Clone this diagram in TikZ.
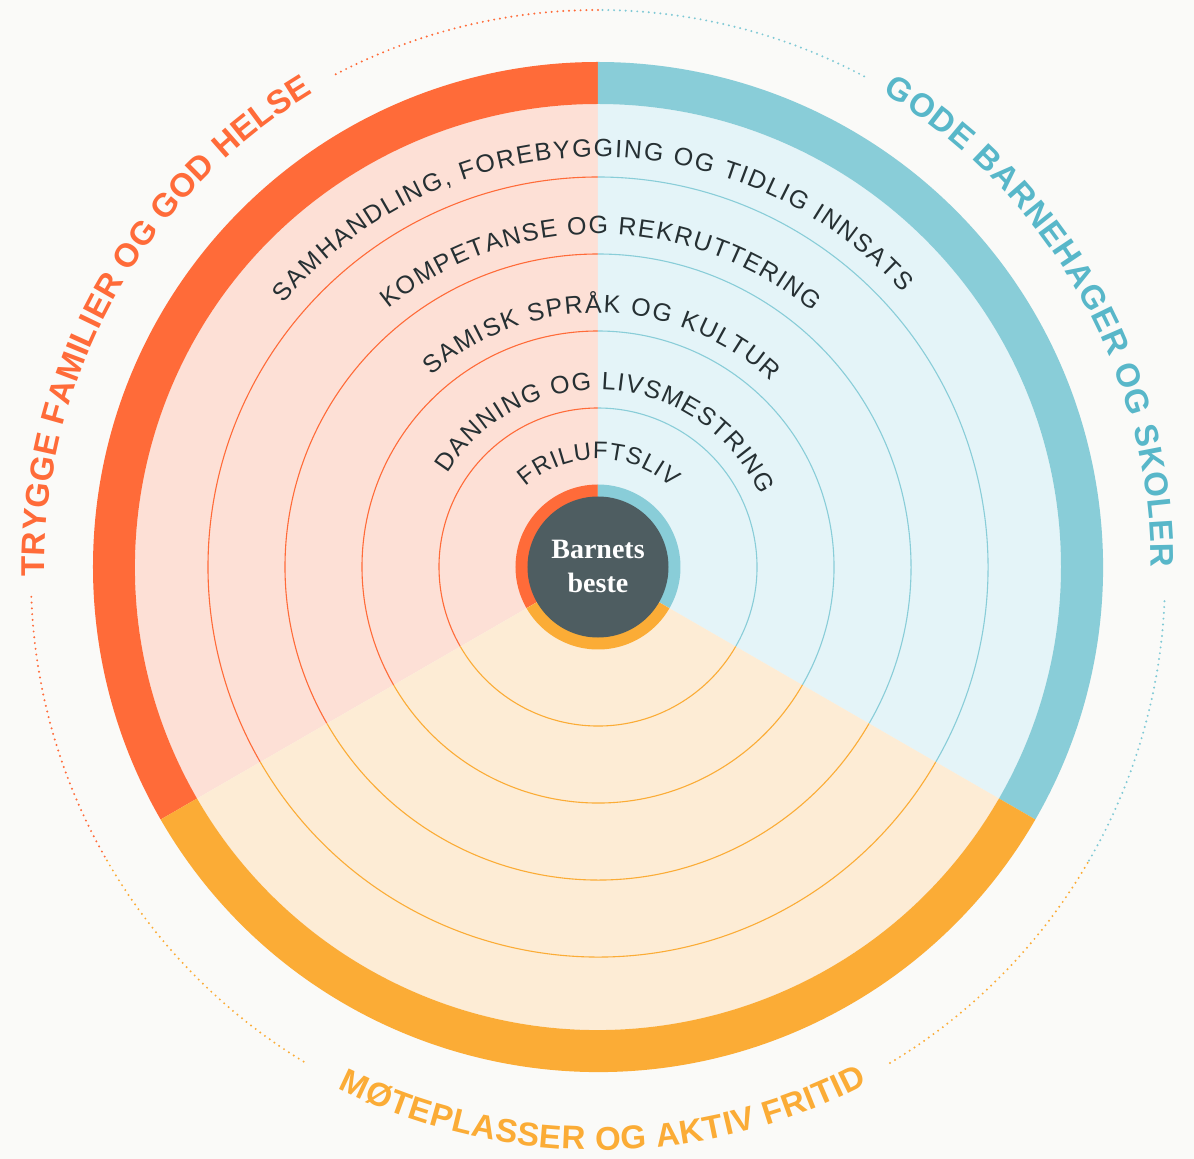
\documentclass[tikz,border=0pt]{standalone}
\usepackage{fontspec}
\usetikzlibrary{decorations.text}
\newfontfamily\lblfont{Liberation Sans}
\newfontfamily\innfont{Liberation Sans}
\newfontfamily\ctrfont{Liberation Serif}
\definecolor{oR}{HTML}{FF6B39}
\definecolor{oL}{HTML}{FDE0D6}
\definecolor{bR}{HTML}{89CDD8}
\definecolor{bL}{HTML}{E4F4F8}
\definecolor{bT}{HTML}{58B7C9}
\definecolor{yR}{HTML}{FBAC36}
\definecolor{yL}{HTML}{FDECD5}
\definecolor{ctr}{HTML}{4E5D61}
\definecolor{tdark}{HTML}{263033}
\definecolor{bg}{HTML}{FAFAF8}
\begin{document}
\begin{tikzpicture}[x=1pt,y=1pt,
  ringline/.style={line width=1.1pt},
  dots/.style={line width=2.2pt, line cap=round, dash pattern=on 0pt off 5.8pt},
  innerlabel/.style={decorate, decoration={text along path, text align={fit to path},
     text={|\innfont\fontsize{25}{25}\selectfont\color{tdark}|#1}}},
  smalllabel/.style={decorate, decoration={text along path, text align={fit to path},
     text={|\innfont\fontsize{24}{24}\selectfont\color{tdark}|#1}}},
  outerlabel/.style 2 args={decorate, decoration={text along path, text align={fit to path},
     text={|\lblfont\bfseries\fontsize{33}{33}\selectfont\color{#1}|#2}}},
]
\fill[bg] (-598,-592) rectangle (596,567);
\useasboundingbox (-598,-592) rectangle (596,567);

% sectors
\foreach \a/\b/\cl/\cr in {90/210/oL/oR, -30/90/bL/bR, 210/330/yL/yR} {
  \fill[\cl] (0,0) -- (\a:463pt) arc[start angle=\a, end angle=\b, radius=463pt] -- cycle;
  \fill[\cr] (\a:463pt) -- (\a:505pt) arc[start angle=\a, end angle=\b, radius=505pt]
     -- (\b:463pt) arc[start angle=\b, end angle=\a, radius=463pt] -- cycle;
  \foreach \r in {159pt,236pt,313pt,390pt}
    \draw[\cr, ringline] (\a:\r) arc[start angle=\a, end angle=\b, radius=\r];
  \fill[\cr] (0,0) -- (\a:82.5pt) arc[start angle=\a, end angle=\b, radius=82.5pt] -- cycle;
}
\fill[ctr] (0,0) circle[radius=70.5pt];
\node[font=\ctrfont\bfseries\fontsize{28}{28}\selectfont, text=white, anchor=base, inner sep=0pt] (t1) at (0,9) {Barnets};
\node[font=\ctrfont\bfseries\fontsize{28}{28}\selectfont, text=white, anchor=base, inner sep=0pt] (t2) at (0,-25) {beste};

% dotted outer arcs
\begin{scope}[shift={(0,-10)}]
  \draw[dots, oR] (90:567pt) arc[start angle=90, end angle=118, radius=567pt];
  \draw[dots, oR] (182:567pt) arc[start angle=182, end angle=210, radius=567pt];
  \draw[dots, bR!80!bT] (62:567pt) arc[start angle=62, end angle=90, radius=567pt];
  \draw[dots, bR!80!bT] (-30:567pt) arc[start angle=-30, end angle=-2, radius=567pt];
  \draw[dots, yR] (210:567pt) arc[start angle=210, end angle=239, radius=567pt];
  \draw[dots, yR] (-59:567pt) arc[start angle=-59, end angle=-30, radius=567pt];
\end{scope}

% outer labels
\path[outerlabel={oR}{TRYGGE FAMILIER OG GOD HELSE}] (181:553pt) arc[start angle=181, end angle=121, radius=553pt];
\path[outerlabel={bT}{GODE BARNEHAGER OG SKOLER}] (59:553pt) arc[start angle=59, end angle=0, radius=553pt];
\path[outerlabel={yR}{MØTEPLASSER OG AKTIV FRITID}] (243.5:583pt) arc[start angle=243.5, end angle=297.5, radius=583pt];

% inner labels
\path[innerlabel={SAMHANDLING, FOREBYGGING OG TIDLIG INNSATS}] (140:410pt) arc[start angle=140, end angle=42, radius=410pt];
\path[innerlabel={KOMPETANSE OG REKRUTTERING}] (129:333pt) arc[start angle=129, end angle=50, radius=333pt];
\path[innerlabel={SAMISK SPRÅK OG KULTUR}] (131:254pt) arc[start angle=131, end angle=47, radius=254pt];
\path[innerlabel={DANNING OG LIVSMESTRING}] (148:177pt) arc[start angle=148, end angle=24, radius=177pt];
\path[smalllabel={FRILUFTSLIV}] (132:108pt) arc[start angle=132, end angle=47, radius=108pt];
\end{tikzpicture}
\end{document}
